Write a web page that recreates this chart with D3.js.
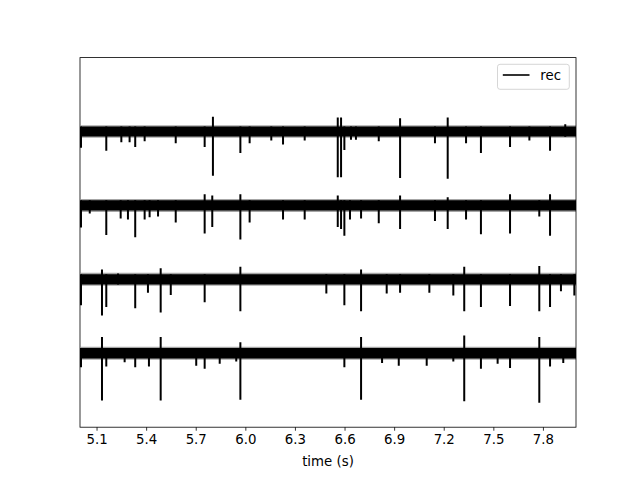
<!DOCTYPE html>
<html><head><meta charset="utf-8">
<script src="https://cdn.jsdelivr.net/npm/d3@7"></script>
<style>body{margin:0;background:#fff} svg{display:block} text{font-family:"DejaVu Sans",sans-serif}</style>
</head><body><svg id="c" width="640" height="480"></svg>
<script>
// ---- data ----
const channelOffsets = [0, -1, -2, -3];
const noiseHalfWidth = [0.068, 0.07, 0.07, 0.07];
const noisePeakWidth = [0.085, 0.088, 0.088, 0.088];
const recordingRange = [5.005, 8.0];
const xDomain = [5.0, 8.0];
const yDomain = [-4, 1];
// spikes: [time (s), downward amplitude, upward amplitude]
const spikes0 = [
  [5.006,0.22],[5.159,0.26],[5.250,0.145],[5.300,0.145],[5.334,0.21],[5.391,0.13],
  [5.579,0.16],[5.754,0.21],[5.804,0.60,0.20],[5.970,0.29],[6.026,0.16],[6.157,0.12],
  [6.228,0.175],[6.359,0.12],[6.559,0.62,0.19],[6.579,0.62,0.19],[6.599,0.25],[6.639,0.11],
  [6.669,0.11],[6.807,0.13],[6.936,0.63,0.18],[7.147,0.16],[7.224,0.64,0.19],[7.335,0.16],
  [7.425,0.29],[7.601,0.21],[7.718,0.12],[7.843,0.26],[7.935,0.07,0.10]
];
const spikes1 = [
  [5.006,0.30],[5.059,0.11],[5.159,0.40],[5.246,0.175],[5.290,0.19],[5.334,0.43],
  [5.391,0.19],[5.421,0.16],[5.472,0.15],[5.579,0.23],[5.754,0.38,0.15],[5.800,0.29,0.135],
  [5.970,0.46,0.15],[6.026,0.23],[6.228,0.19],[6.359,0.19],[6.559,0.29,0.135],[6.579,0.32],
  [6.599,0.41],[6.633,0.19],[6.700,0.175],[6.807,0.24],[6.936,0.32,0.135],[7.147,0.21],
  [7.224,0.32,0.11],[7.335,0.19],[7.425,0.39],[7.601,0.38,0.15],[7.778,0.15],[7.843,0.41,0.15]
];
const spikes2 = [
  [5.006,0.35],[5.133,0.49,0.135],[5.159,0.375],[5.230,0.07,0.08],[5.334,0.39],[5.411,0.18],
  [5.488,0.45,0.15],[5.549,0.21],[5.754,0.31],[5.970,0.43,0.17],[6.490,0.19],[6.599,0.35],
  [6.700,0.43,0.135],[6.855,0.19],[6.936,0.18],[7.113,0.18],[7.258,0.22],[7.324,0.43,0.17],
  [7.425,0.375],[7.601,0.36],[7.778,0.43,0.18],[7.843,0.375],[7.909,0.16],[7.990,0.22]
];
const spikes3 = [
  [5.006,0.19],[5.133,0.64,0.22],[5.159,0.18],[5.270,0.12],[5.334,0.19],[5.417,0.18],
  [5.488,0.64,0.22],[5.703,0.17],[5.754,0.21],[5.845,0.14],[5.945,0.11],[5.970,0.63,0.15],
  [6.599,0.19],[6.700,0.63,0.22],[6.827,0.13],[6.928,0.17],[7.097,0.17],[7.258,0.11],
  [7.324,0.65,0.24],[7.425,0.21],[7.526,0.14],[7.601,0.20],[7.778,0.67,0.22],[7.843,0.18],
  [7.923,0.13]
];
const channelSpikes = [spikes0, spikes1, spikes2, spikes3];
const tickValues = [5.1, 5.4, 5.7, 6.0, 6.3, 6.6, 6.9, 7.2, 7.5, 7.8];
const tickLabels = ["5.1","5.4","5.7","6.0","6.3","6.6","6.9","7.2","7.5","7.8"];
const xLabel = "time (s)";
const legendLabel = "rec";

// ---- layout ----
const L = 80, R = 576, T = 57.6, B = 427.2;
const svg = d3.select("#c");
const x = d3.scaleLinear().domain(xDomain).range([L, R]);
const y = d3.scaleLinear().domain(yDomain).range([B, T]);

svg.append("defs").append("clipPath").attr("id","clip")
  .append("rect").attr("x",L).attr("y",T).attr("width",R-L).attr("height",B-T);

const plot = svg.append("g").attr("clip-path","url(#clip)");

channelOffsets.forEach((off, i) => {
  const nw = noiseHalfWidth[i], pw = noisePeakWidth[i];
  const outer = d3.area().x(d => x(d)).y0(y(off - pw)).y1(y(off + pw));
  plot.append("path").datum(recordingRange).attr("d", outer)
    .attr("fill","#000").attr("fill-opacity",0.35);
  const area = d3.area().x(d => x(d)).y0(y(off - nw)).y1(y(off + nw));
  plot.append("path").datum(recordingRange).attr("d", area).attr("fill","#000");
  plot.selectAll(null).data(channelSpikes[i]).enter().append("line")
    .attr("x1", d => x(d[0])).attr("x2", d => x(d[0]))
    .attr("y1", d => y(off + (d[2] !== undefined ? d[2] : nw)))
    .attr("y2", d => y(off - d[1]))
    .attr("stroke","#000").attr("stroke-width",2);
});

// spines
svg.append("rect").attr("x",L).attr("y",T).attr("width",R-L).attr("height",B-T)
  .attr("fill","none").attr("stroke","#000").attr("stroke-width",0.8);

// x axis
const ax = svg.append("g").attr("transform",`translate(0,${B})`)
  .call(d3.axisBottom(x).tickValues(tickValues).tickFormat((d,i)=>tickLabels[i])
    .tickSize(3.5).tickPadding(3.5).tickSizeOuter(0));
ax.select(".domain").remove();
ax.selectAll(".tick line").attr("stroke","#000").attr("stroke-width",0.8);
ax.selectAll(".tick text").attr("font-family","DejaVu Sans").attr("font-size","13.33px")
  .attr("fill","#000").attr("dy","0.73em");

svg.append("text").attr("x",(L+R)/2).attr("y",466).attr("text-anchor","middle")
  .attr("font-size","13.33px").attr("fill","#000").text(xLabel);

// legend
const lg = svg.append("g");
lg.append("rect").attr("x",497.5).attr("y",64.3).attr("width",71.8).attr("height",25)
  .attr("rx",2.5).attr("fill","#fff").attr("fill-opacity",0.8)
  .attr("stroke","#cccccc").attr("stroke-width",0.8);
lg.append("line").attr("x1",502.8).attr("x2",529.5).attr("y1",75).attr("y2",75)
  .attr("stroke","#000").attr("stroke-width",1.6);
lg.append("text").attr("x",540.3).attr("y",79.8).attr("font-size","13.33px")
  .attr("fill","#000").text(legendLabel);
</script></body></html>
